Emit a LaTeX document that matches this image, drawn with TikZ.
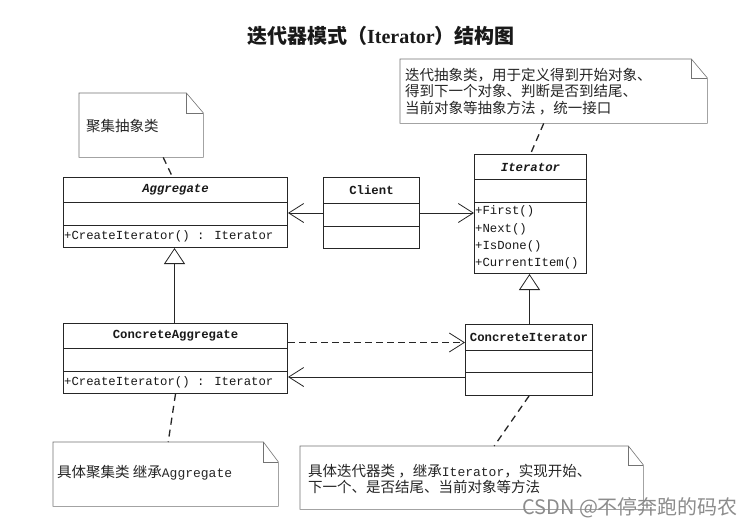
\documentclass[tikz,border=0pt]{standalone}
\usepackage{fontspec}
\setmainfont{Liberation Serif}
\newfontfamily\cjk{Noto Sans CJK SC}
\newfontfamily\mono{Liberation Mono}
\usetikzlibrary{arrows.meta}
\newcommand\clsfont{\mono\fontsize{12.3}{14}\selectfont}
\newcommand\notefont{\cjk\fontsize{14.5}{16.5}\selectfont}
\newcommand\dogear[3]{%
  \draw[noteln] (#1.north west) -- ([xshift=-#2]#1.north east) -- ([yshift=-#3]#1.north east) -- (#1.south east) -- (#1.south west) -- cycle;
  \draw[noteln] ([xshift=-#2]#1.north east) -- ([xshift=-#2,yshift=-#3]#1.north east) -- ([yshift=-#3]#1.north east);}
\begin{document}
\begin{tikzpicture}[x=1pt,y=-1pt,
  cls/.style={draw=black!85, line width=1pt, anchor=north west, inner sep=0pt},
  cname/.style={font=\clsfont\bfseries, text=black!90},
  aname/.style={font=\clsfont\bfseries\itshape, text=black!90},
  meth/.style={anchor=west, inner sep=0pt, font=\clsfont, text=black!90},
  notebox/.style={anchor=north west, inner sep=0pt, draw=none},
  noteln/.style={draw=black!55, line width=0.6pt},
  notetxt/.style={anchor=west, inner sep=0pt, font=\notefont, text=black!85},
  notedash/.style={draw=black!85, line width=1.3pt, dash pattern=on 7pt off 5pt},
  assoc/.style={draw=black!85, line width=0.8pt, -{Straight Barb[length=15pt,width=19pt]}},
  depend/.style={draw=black!85, line width=0.8pt, dash pattern=on 7pt off 4pt, -{Straight Barb[length=15pt,width=19pt]}},
  inh/.style={draw=black!85, line width=0.8pt, -{Triangle[open,length=16pt,width=21pt,fill=white]}}
]
\fill[white] (0,0) rectangle (748,528);
\useasboundingbox (0,0) rectangle (748,528);

% title
\node[inner sep=0pt, text=black!90] (title) at (381,36)
  {\fontsize{20}{24}\selectfont{\cjk\bfseries 迭代器模式（}{\bfseries Iterator}{\cjk\bfseries ）结构图}};

% Aggregate
\node[cls, minimum width=224pt, minimum height=25pt, aname] (agg-n) at (63,177) {Aggregate};
\node[cls, minimum width=224pt, minimum height=23pt] (agg-a) at (63,202) {};
\node[cls, minimum width=224pt, minimum height=22pt] (agg-m) at (63,225) {};
\node[meth] (agg-mt) at (64,236) {+CreateIterator() : Iterator};

% Client
\node[cls, minimum width=96pt, minimum height=26pt, cname] (cl-n) at (323,177) {Client};
\node[cls, minimum width=96pt, minimum height=23pt] (cl-a) at (323,203) {};
\node[cls, minimum width=96pt, minimum height=22pt] (cl-m) at (323,226) {};

% Iterator
\node[cls, minimum width=112pt, minimum height=25pt, aname] (it-n) at (474,154) {Iterator};
\node[cls, minimum width=112pt, minimum height=23pt] (it-a) at (474,179) {};
\node[cls, minimum width=112pt, minimum height=71pt] (it-m) at (474,202) {};
\node[meth] (it-m1) at (475,211) {+First()};
\node[meth] (it-m2) at (475,229) {+Next()};
\node[meth] (it-m3) at (475,246) {+IsDone()};
\node[meth] (it-m4) at (475,263) {+CurrentItem()};

% ConcreteAggregate
\node[cls, minimum width=224pt, minimum height=25pt, cname] (ca-n) at (63,323) {ConcreteAggregate};
\node[cls, minimum width=224pt, minimum height=23pt] (ca-a) at (63,348) {};
\node[cls, minimum width=224pt, minimum height=22pt] (ca-m) at (63,371) {};
\node[meth] (ca-mt) at (64,382) {+CreateIterator() : Iterator};

% ConcreteIterator
\node[cls, minimum width=127pt, minimum height=26pt, cname] (ci-n) at (465,324) {ConcreteIterator};
\node[cls, minimum width=127pt, minimum height=22pt] (ci-a) at (465,350) {};
\node[cls, minimum width=127pt, minimum height=23pt] (ci-m) at (465,372) {};

% notes
\node[notebox, minimum width=307pt, minimum height=64pt] (n1) at (400,59) {};
\dogear{n1}{16pt}{19pt}
\node[notetxt] (n1a) at (405,75) {迭代抽象类，用于定义得到开始对象、};
\node[notetxt] (n1b) at (405,91) {得到下一个对象、判断是否到结尾、};
\node[notetxt] (n1c) at (405,108) {当前对象等抽象方法 ，统一接口};

\node[notebox, minimum width=124pt, minimum height=64pt] (n2) at (79,93) {};
\dogear{n2}{17pt}{20pt}
\node[notetxt] (n2a) at (86,126) {聚集抽象类};

\node[notebox, minimum width=225pt, minimum height=64pt] (n3) at (53,442) {};
\dogear{n3}{15pt}{20pt}
\node[notetxt] (n3a) at (57,473) {具体聚集类 继承{\mono\fontsize{13}{15}\selectfont Aggregate}};

\node[notebox, minimum width=343pt, minimum height=63pt] (n4) at (300,446) {};
\dogear{n4}{15pt}{19pt}
\node[notetxt] (n4a) at (308,471) {具体迭代器类 ，继承{\mono\fontsize{13}{15}\selectfont Iterator}，实现开始、};
\node[notetxt] (n4b) at (308,487) {下一个、是否结尾、当前对象等方法};

% note connectors
\draw[notedash] ([xshift=-10pt]n1.south) -- (it-n.north);
\draw[notedash] ([xshift=22pt]n2.south) -- ([xshift=-3pt]agg-n.north);
\draw[notedash] (ca-m.south) -- ([xshift=2.5pt]n3.north);
\draw[notedash] (ci-m.south) -- ([xshift=22.5pt]n4.north);

% associations
\draw[assoc] ([yshift=2pt]cl-a.west) -- ([yshift=2pt]cl-a.west -| agg-a.east);
\draw[assoc] ([yshift=2pt]cl-a.east) -- ([yshift=2pt]cl-a.east -| it-m.west);
\draw[depend] ([yshift=-6.5pt]ca-n.east) -- ([yshift=-6.5pt]ca-n.east -| ci-n.west);
\draw[assoc] ([yshift=-5pt]ci-m.north west) -- ([yshift=-5pt]ci-m.north west -| ca-m.east);

% inheritance
\draw[inh] ([xshift=-1pt]ca-n.north) -- ([xshift=-1pt]agg-m.south);
\draw[inh] ([xshift=0.5pt]ci-n.north) -- ([xshift=0.5pt]ci-n.north |- it-m.south);

% watermark
\node[anchor=west, inner sep=0pt, text=black!45, font=\cjk\fontsize{20}{24}\selectfont] (wm) at (522,508) {CSDN @不停奔跑的码农};
\end{tikzpicture}
\end{document}
